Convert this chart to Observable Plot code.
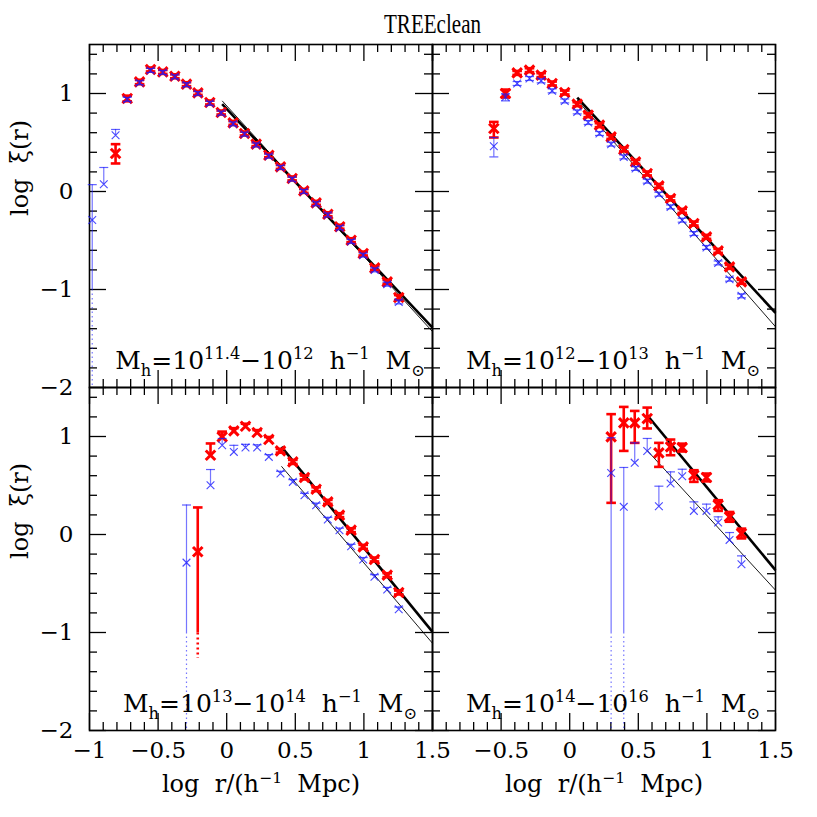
<!DOCTYPE html>
<html><head><meta charset="utf-8">
<script src="https://cdn.jsdelivr.net/npm/d3@7"></script>
<script src="https://cdn.jsdelivr.net/npm/@observablehq/plot@0.6"></script>
<style>html,body{margin:0;padding:0;background:#fff}</style>
</head><body><div id="chart"></div>
<script>
// ---------- tick values & labels ----------
const xMajor = [-1, -0.5, 0, 0.5, 1, 1.5];
const xMinor = [-0.9,-0.8,-0.7,-0.6,-0.4,-0.3,-0.2,-0.1,0.1,0.2,0.3,0.4,0.6,0.7,0.8,0.9,1.1,1.2,1.3,1.4];
const yMajor = [-2, -1, 0, 1];
const yMinor = [-1.8,-1.6,-1.4,-1.2,-0.8,-0.6,-0.4,-0.2,0.2,0.4,0.6,0.8,1.2,1.4];
const xLabelsLeft = [-1, -0.5, 0, 0.5, 1, 1.5];
const xLabelsRight = [-0.5, 0, 0.5, 1, 1.5];
const yLabels = [1, 0, -1, -2];

const titleText = "TREEclean";
const xTitle = "log  r/(h^{−1}  Mpc)";
const yTitle = "log  ξ(r)";

// ---------- panels ----------
const panelIds = ["p1", "p2", "p3", "p4"];
const panelCol = {p1: "L", p2: "R", p3: "L", p4: "R"};
const panelRow = {p1: "T", p2: "T", p3: "B", p4: "B"};
const panelLabels = {
  p1: "M_{h}=10^{11.4}−10^{12}  h^{−1}  M_{⊙}",
  p2: "M_{h}=10^{12}−10^{13}  h^{−1}  M_{⊙}",
  p3: "M_{h}=10^{13}−10^{14}  h^{−1}  M_{⊙}",
  p4: "M_{h}=10^{14}−10^{16}  h^{−1}  M_{⊙}"
};

// ---------- panel 1 ----------
const p1RedX = [-0.81,-0.725,-0.635,-0.555,-0.466,-0.378,-0.293,-0.21,-0.123,-0.04,0.047,0.13,0.215,0.307,0.392,0.477,0.562,0.652,0.737,0.824,0.907,0.995,1.079,1.17,1.254];
const p1RedY = [0.388,0.949,1.118,1.245,1.22,1.176,1.095,1.006,0.908,0.806,0.70,0.592,0.483,0.37,0.251,0.133,0.006,-0.116,-0.232,-0.36,-0.497,-0.633,-0.78,-0.922,-1.082];
const p1RedLo = [0.286,0.92,1.095,1.225,1.2,1.156,1.075,0.986,0.888,0.786,0.68,0.572,0.463,0.35,0.231,0.113,-0.014,-0.136,-0.252,-0.38,-0.517,-0.653,-0.8,-0.942,-1.107];
const p1RedHi = [0.483,0.978,1.14,1.265,1.24,1.196,1.115,1.026,0.928,0.826,0.72,0.612,0.503,0.39,0.271,0.153,0.026,-0.096,-0.212,-0.34,-0.477,-0.613,-0.76,-0.902,-1.057];
const p1BlueX = [-0.98,-0.896,-0.81,-0.725,-0.635,-0.555,-0.466,-0.378,-0.293,-0.21,-0.123,-0.04,0.047,0.13,0.215,0.307,0.392,0.477,0.562,0.652,0.737,0.824,0.907,0.995,1.079,1.17,1.254];
const p1BlueY = [-0.29,0.074,0.574,0.94,1.11,1.235,1.215,1.17,1.09,1.0,0.9,0.8,0.69,0.585,0.475,0.36,0.245,0.125,0.0,-0.125,-0.24,-0.37,-0.51,-0.65,-0.80,-0.946,-1.127];
const p1BlueLo = [-1.0,0.074,0.574,0.92,1.09,1.215,1.195,1.15,1.07,0.98,0.88,0.78,0.67,0.565,0.455,0.34,0.225,0.105,-0.02,-0.145,-0.26,-0.39,-0.53,-0.67,-0.82,-0.966,-1.147];
const p1BlueHi = [0.07,0.245,0.633,0.96,1.13,1.255,1.235,1.19,1.11,1.02,0.92,0.82,0.71,0.605,0.495,0.38,0.265,0.145,0.02,-0.105,-0.22,-0.35,-0.49,-0.63,-0.78,-0.926,-1.107];

// ---------- panel 2 ----------
const p2RedX = [-0.553,-0.468,-0.383,-0.293,-0.208,-0.128,-0.036,0.055,0.135,0.217,0.302,0.394,0.48,0.565,0.65,0.735,0.82,0.905,0.997,1.082,1.165,1.252];
const p2RedY = [0.643,1.0,1.21,1.238,1.187,1.102,1.01,0.891,0.779,0.677,0.557,0.429,0.302,0.184,0.057,-0.071,-0.198,-0.327,-0.463,-0.606,-0.769,-0.922];
const p2RedLo = [0.551,0.96,1.19,1.218,1.167,1.082,0.99,0.871,0.759,0.657,0.537,0.409,0.282,0.164,0.037,-0.091,-0.218,-0.347,-0.483,-0.626,-0.789,-0.942];
const p2RedHi = [0.71,1.04,1.23,1.258,1.207,1.122,1.03,0.911,0.799,0.697,0.577,0.449,0.322,0.204,0.077,-0.051,-0.178,-0.307,-0.443,-0.586,-0.749,-0.902];
const p2BlueX = [-0.553,-0.468,-0.383,-0.293,-0.208,-0.128,-0.036,0.055,0.135,0.217,0.302,0.394,0.48,0.565,0.65,0.735,0.82,0.905,0.997,1.082,1.165,1.252];
const p2BlueY = [0.462,0.965,1.102,1.153,1.129,1.027,0.924,0.812,0.704,0.592,0.483,0.353,0.235,0.105,-0.028,-0.157,-0.293,-0.429,-0.571,-0.729,-0.895,-1.065];
const p2BlueLo = [0.353,0.925,1.082,1.133,1.109,1.007,0.904,0.792,0.684,0.572,0.463,0.333,0.215,0.085,-0.048,-0.177,-0.313,-0.449,-0.591,-0.749,-0.915,-1.085];
const p2BlueHi = [0.551,0.995,1.122,1.173,1.149,1.047,0.944,0.832,0.724,0.612,0.503,0.373,0.255,0.125,-0.008,-0.137,-0.273,-0.409,-0.551,-0.709,-0.875,-1.045];

// ---------- panel 3 ----------
const p3RedX = [-0.211,-0.118,-0.033,0.052,0.137,0.222,0.307,0.392,0.482,0.567,0.652,0.737,0.822,0.907,0.995,1.077,1.17,1.254];
const p3RedY = [-0.176,0.809,0.996,1.057,1.105,1.041,0.97,0.853,0.741,0.582,0.462,0.333,0.197,0.044,-0.126,-0.255,-0.415,-0.592];
const p3RedLo = [-1.004,0.809,0.996,1.057,1.105,1.041,0.97,0.835,0.72,0.562,0.442,0.313,0.177,0.024,-0.146,-0.275,-0.435,-0.612];
const p3RedHi = [0.276,0.929,1.05,1.085,1.13,1.065,0.995,0.873,0.761,0.602,0.482,0.353,0.217,0.064,-0.106,-0.235,-0.395,-0.572];
const p3BlueX = [-0.293,-0.118,-0.033,0.052,0.137,0.222,0.307,0.392,0.482,0.567,0.652,0.737,0.822,0.907,0.995,1.077,1.17,1.254];
const p3BlueY = [-0.287,0.503,0.911,0.843,0.888,0.888,0.792,0.622,0.537,0.401,0.299,0.153,0.044,-0.119,-0.255,-0.432,-0.561,-0.762];
const p3BlueLo = [-1.0,0.503,0.911,0.843,0.888,0.888,0.792,0.622,0.537,0.401,0.299,0.153,0.044,-0.119,-0.255,-0.432,-0.561,-0.762];
const p3BlueHi = [0.301,0.663,0.98,0.91,0.92,0.915,0.815,0.645,0.56,0.42,0.32,0.175,0.065,-0.1,-0.235,-0.41,-0.54,-0.74];

// ---------- panel 4 ----------
const p4RedX = [0.302,0.394,0.474,0.565,0.65,0.735,0.82,0.905,0.997,1.082,1.165,1.252];
const p4RedY = [0.996,1.139,1.139,1.183,0.833,0.894,0.887,0.605,0.582,0.302,0.18,0.01];
const p4RedLo = [0.323,0.853,0.935,1.082,0.69,0.809,0.847,0.537,0.542,0.241,0.13,-0.04];
const p4RedHi = [1.228,1.302,1.261,1.295,0.935,0.969,0.927,0.656,0.622,0.35,0.23,0.06];
const p4BlueX = [0.302,0.394,0.474,0.565,0.65,0.735,0.82,0.905,0.997,1.082,1.165,1.252];
const p4BlueY = [0.627,0.282,0.731,0.853,0.289,0.52,0.595,0.241,0.241,0.122,-0.055,-0.303];
const p4BlueLo = [-1.0,-1.0,0.731,0.853,0.289,0.52,0.595,0.241,0.241,0.122,-0.055,-0.303];
const p4BlueHi = [0.987,0.684,0.935,0.98,0.493,0.639,0.666,0.333,0.31,0.18,0.02,-0.218];

// lower error bars that continue (log of negative value) as a dotted line
const dottedBars = [
  {panel: "p1", series: "blue", index: 0, to: -2},
  {panel: "p3", series: "blue", index: 0, to: -2},
  {panel: "p3", series: "red", index: 0, to: -1.265},
  {panel: "p4", series: "blue", index: 0, to: -2},
  {panel: "p4", series: "blue", index: 1, to: -2}
];

// power-law fits: thick (red sample) and thin (blue sample)
const fits = [
  {panel: "p1", kind: "thick", x1: -0.033, y1: 0.891, x2: 1.5, y2: -1.39},
  {panel: "p1", kind: "thin",  x1: -0.033, y1: 0.925, x2: 1.5, y2: -1.43},
  {panel: "p2", kind: "thick", x1: 0.055, y1: 0.959, x2: 1.5, y2: -1.239},
  {panel: "p2", kind: "thin",  x1: 0.055, y1: 0.932, x2: 1.5, y2: -1.38},
  {panel: "p3", kind: "thick", x1: 0.399, y1: 0.894, x2: 1.5, y2: -0.993},
  {panel: "p3", kind: "thin",  x1: 0.399, y1: 0.696, x2: 1.5, y2: -1.11},
  {panel: "p4", kind: "thick", x1: 0.565, y1: 1.217, x2: 1.5, y2: -0.364},
  {panel: "p4", kind: "thin",  x1: 0.565, y1: 0.857, x2: 1.5, y2: -0.568}
];

// ---------- build tables ----------
const seriesDefs = [
  ["p1","red",p1RedX,p1RedY,p1RedLo,p1RedHi], ["p1","blue",p1BlueX,p1BlueY,p1BlueLo,p1BlueHi],
  ["p2","red",p2RedX,p2RedY,p2RedLo,p2RedHi], ["p2","blue",p2BlueX,p2BlueY,p2BlueLo,p2BlueHi],
  ["p3","red",p3RedX,p3RedY,p3RedLo,p3RedHi], ["p3","blue",p3BlueX,p3BlueY,p3BlueLo,p3BlueHi],
  ["p4","red",p4RedX,p4RedY,p4RedLo,p4RedHi], ["p4","blue",p4BlueX,p4BlueY,p4BlueLo,p4BlueHi]
];
const rows = [];
for (const [panel, series, X, Y, LO, HI] of seriesDefs) {
  X.forEach((x, i) => {
    const dot = dottedBars.find(d => d.panel === panel && d.series === series && d.index === i);
    rows.push({panel, series, fx: panelCol[panel], fy: panelRow[panel], x, y: Y[i], lo: LO[i], hi: HI[i], dotTo: dot ? dot.to : null});
  });
}
const red = rows.filter(d => d.series === "red");
const blue = rows.filter(d => d.series === "blue");
const fitRows = fits.map(f => ({...f, fx: panelCol[f.panel], fy: panelRow[f.panel]}));

// ---------- layout ----------
const W = 817, H = 817, ML = 89, MR = 42, MT = 44, MB = 87;
const PW = (W - ML - MR) / 2, PH = (H - MT - MB) / 2;
const SERIF = "DejaVu Serif, serif";
const RED = "#ff0000", BLUE = "#1a1aff";
const MAJ = 17, MIN = 8;

const fmt = v => (v < 0 ? "−" + Math.abs(v) : String(v));
const capSymbol = {draw(ctx, size) { const w = Math.sqrt(size / Math.PI); ctx.moveTo(-w, 0); ctx.lineTo(w, 0); }};

const xLabelRows = [...xLabelsLeft.map(v => ({v, fx: "L"})), ...xLabelsRight.map(v => ({v, fx: "R"}))];
const yLabelRows = [...yLabels.map(v => ({v, fy: "T"})), ...yLabels.map(v => ({v, fy: "B"}))];
const labelRows = panelIds.map(p => ({fx: panelCol[p], fy: panelRow[p], text: panelLabels[p]}));

const chart = Plot.plot({
  width: W, height: H,
  marginLeft: ML, marginRight: MR, marginTop: MT, marginBottom: MB,
  style: {background: "white", overflow: "visible"},
  x: {domain: [-1, 1.5], axis: null},
  y: {domain: [-2, 1.5], axis: null},
  fx: {domain: ["L", "R"], padding: 0, axis: null},
  fy: {domain: ["T", "B"], padding: 0, axis: null},
  marks: [
    // ticks on all four sides, pointing inwards
    Plot.tickX(xMajor, {x: d => d, insetTop: PH - MAJ, stroke: "black", strokeWidth: 1.3}),
    Plot.tickX(xMajor, {x: d => d, insetBottom: PH - MAJ, stroke: "black", strokeWidth: 1.3}),
    Plot.tickX(xMinor, {x: d => d, insetTop: PH - MIN, stroke: "black", strokeWidth: 1.3}),
    Plot.tickX(xMinor, {x: d => d, insetBottom: PH - MIN, stroke: "black", strokeWidth: 1.3}),
    Plot.tickY(yMajor, {y: d => d, insetRight: PW - MAJ, stroke: "black", strokeWidth: 1.3}),
    Plot.tickY(yMajor, {y: d => d, insetLeft: PW - MAJ, stroke: "black", strokeWidth: 1.3}),
    Plot.tickY(yMinor, {y: d => d, insetRight: PW - MIN, stroke: "black", strokeWidth: 1.3}),
    Plot.tickY(yMinor, {y: d => d, insetLeft: PW - MIN, stroke: "black", strokeWidth: 1.3}),
    Plot.frame({stroke: "black", strokeWidth: 1.6}),

    // fits
    Plot.link(fitRows, {x1: "x1", y1: "y1", x2: "x2", y2: "y2", fx: "fx", fy: "fy",
      stroke: "black", strokeWidth: d => d.kind === "thick" ? 2.6 : 0.9}),

    // red sample
    Plot.ruleX(red, {x: "x", y1: "lo", y2: "hi", fx: "fx", fy: "fy", stroke: RED, strokeWidth: 2.6}),
    Plot.ruleX(red.filter(d => d.dotTo != null), {x: "x", y1: "lo", y2: "dotTo", fx: "fx", fy: "fy", stroke: RED, strokeWidth: 2.6, strokeDasharray: "2,3"}),
    Plot.dot(red.filter(d => d.hi > d.y), {x: "x", y: "hi", fx: "fx", fy: "fy", symbol: capSymbol, r: 4.8, fill: "none", stroke: RED, strokeWidth: 2.6}),
    Plot.dot(red.filter(d => d.lo < d.y && d.dotTo == null), {x: "x", y: "lo", fx: "fx", fy: "fy", symbol: capSymbol, r: 4.8, fill: "none", stroke: RED, strokeWidth: 2.6}),
    Plot.dot(red, {x: "x", y: "y", fx: "fx", fy: "fy", symbol: "times", r: 4.4, stroke: RED, strokeWidth: 3}),

    // blue sample
    Plot.ruleX(blue, {x: "x", y1: "lo", y2: "hi", fx: "fx", fy: "fy", stroke: BLUE, strokeOpacity: 0.6, strokeWidth: 1.2}),
    Plot.ruleX(blue.filter(d => d.dotTo != null), {x: "x", y1: "lo", y2: "dotTo", fx: "fx", fy: "fy", stroke: BLUE, strokeOpacity: 0.6, strokeWidth: 1.2, strokeDasharray: "1.5,3"}),
    Plot.dot(blue.filter(d => d.hi > d.y), {x: "x", y: "hi", fx: "fx", fy: "fy", symbol: capSymbol, r: 4.5, fill: "none", stroke: BLUE, strokeOpacity: 0.7, strokeWidth: 1.2}),
    Plot.dot(blue.filter(d => d.lo < d.y && d.dotTo == null), {x: "x", y: "lo", fx: "fx", fy: "fy", symbol: capSymbol, r: 4.5, fill: "none", stroke: BLUE, strokeOpacity: 0.7, strokeWidth: 1.2}),
    Plot.dot(blue, {x: "x", y: "y", fx: "fx", fy: "fy", symbol: "times", r: 3.6, stroke: BLUE, strokeOpacity: 0.8, strokeWidth: 1.1}),

    // panel labels
    Plot.text(labelRows, {fx: "fx", fy: "fy", text: "text", frameAnchor: "bottom", lineAnchor: "middle", dx: 9, dy: -27,
      fontSize: 25, fontFamily: SERIF, fill: "black"}),

    // tick labels
    Plot.text(xLabelRows, {x: "v", fx: "fx", fy: () => "B", text: d => fmt(d.v), frameAnchor: "bottom", lineAnchor: "middle", dy: 20,
      fontSize: 23, fontFamily: SERIF, fill: "black"}),
    Plot.text(yLabelRows, {y: "v", fx: () => "L", fy: "fy", text: d => fmt(d.v), frameAnchor: "left", lineAnchor: "middle", dx: -16, textAnchor: "end",
      fontSize: 23, fontFamily: SERIF, fill: "black"}),

    // axis titles
    Plot.text(["L", "R"], {fx: d => d, fy: () => "B", text: () => xTitle, frameAnchor: "bottom", lineAnchor: "middle", dy: 54,
      fontSize: 24, fontFamily: SERIF, fill: "black"}),
    Plot.text(["T", "B"], {fx: () => "L", fy: d => d, text: () => yTitle, frameAnchor: "left", lineAnchor: "middle", dx: -69, rotate: -90,
      fontSize: 24, fontFamily: SERIF, fill: "black"}),

    // title
    Plot.text([titleText], {fx: () => "L", fy: () => "T", text: d => d, frameAnchor: "top-right", lineAnchor: "middle", textAnchor: "middle", dy: -20,
      fontSize: 27, fontFamily: "Liberation Serif, serif", fill: "black"})
  ]
});

document.getElementById("chart").appendChild(chart);

// render _{..} and ^{..} as real sub/superscript tspans
function richify(root, scale) {
  const NS = "http://www.w3.org/2000/svg";
  root.querySelectorAll("text").forEach(t => {
    const s = t.textContent;
    if (s === titleText) {
      t.setAttribute("textLength", "97");
      t.setAttribute("lengthAdjust", "spacingAndGlyphs");
      return;
    }
    if (!/[_^]\{/.test(s)) return;
    const fs = parseFloat(getComputedStyle(t).fontSize) || 23;
    const tokens = [];
    const re = /([_^])\{([^}]*)\}|([^_^]+)/g;
    let m;
    while ((m = re.exec(s))) tokens.push(m[3] != null ? {mode: "", text: m[3]} : {mode: m[1], text: m[2]});
    while (t.firstChild) t.removeChild(t.firstChild);
    t.style.whiteSpace = "pre";
    let cur = 0;
    for (const tok of tokens) {
      const ts = document.createElementNS(NS, "tspan");
      const target = tok.mode === "^" ? -0.38 * fs : tok.mode === "_" ? 0.3 * fs : 0;
      if (target !== cur) ts.setAttribute("dy", String(target - cur));
      cur = target;
      if (tok.mode) ts.setAttribute("font-size", String(fs * scale));
      ts.textContent = tok.text;
      t.appendChild(ts);
    }
  });
}
richify(chart, 0.65);
</script></body></html>
